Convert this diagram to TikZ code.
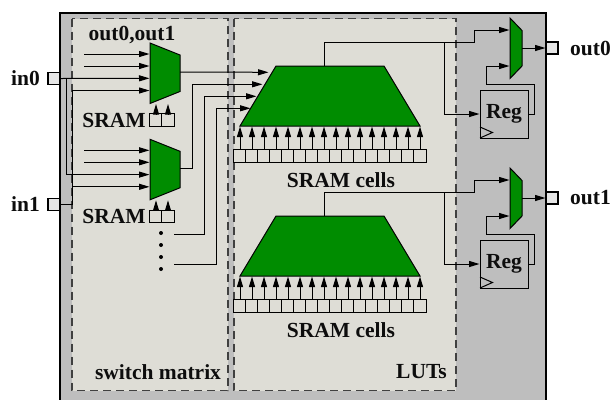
\documentclass[tikz,border=0pt]{standalone}
\usepackage{fontspec}
\setmainfont{Liberation Serif}
\usetikzlibrary{arrows.meta}
\definecolor{chipgray}{HTML}{BEBEBE}
\definecolor{panelgray}{HTML}{DEDDD6}
\definecolor{portgray}{HTML}{E6E6E6}
\definecolor{muxgreen}{HTML}{008C00}
\definecolor{dashgray}{HTML}{404040}
\tikzset{
  lbl/.style={font=\fontsize{21.5bp}{23bp}\selectfont\bfseries,inner sep=0pt,text=black!95},
  wire/.style={draw=black,line width=1bp},
  arr/.style={wire,-{Triangle[length=10.5bp,width=6bp]},shorten >=0.5bp},
  panel/.style={draw=dashgray,fill=panelgray,line width=1.1bp,dash pattern=on 8bp off 5bp},
  greenshape/.style={draw=black,fill=muxgreen,line width=1bp,line join=miter},
  port/.style={draw=black,fill=portgray,line width=1.8bp,minimum size=12bp,inner sep=0pt,outer sep=0pt},
  cell/.style={draw=black,fill=panelgray,line width=1bp,minimum size=12.4bp,inner sep=0pt,outer sep=0pt},
  regbox/.style={draw=black,fill=chipgray,line width=1bp,minimum width=48bp,minimum height=48bp,inner sep=0pt,outer sep=0pt},
  dotn/.style={circle,fill=black,minimum size=4bp,inner sep=0pt}
}
\newcommand{\lutblock}[2]{% name, y of top
  \coordinate (#1tl) at (276,#2);
  \coordinate (#1tr) at (384,#2);
  \coordinate (#1br) at (420,#2+60);
  \coordinate (#1bl) at (240,#2+60);
  \coordinate (#1out) at (324,#2);
  \path[greenshape] (#1tl) -- (#1tr) -- (#1br) -- (#1bl) -- cycle;
  \foreach \i in {0,...,15}{
    \node[cell] (#1c\i) at ({240+12*\i},#2+90) {};
    \coordinate (#1p\i) at ({240+12*\i},#2+60);
    \draw[arr] (#1c\i.north) -- (#1p\i);
  }
}
\newcommand{\smallmux}[2]{% name, y of top-left
  \coordinate (#1a) at (150,#2);
  \coordinate (#1b) at (180,#2+12);
  \coordinate (#1c) at (180,#2+48.5);
  \coordinate (#1d) at (150,#2+60.5);
  \coordinate (#1o) at (180,#2+29);
  \path[greenshape] (#1a) -- (#1b) -- (#1c) -- (#1d) -- cycle;
  \node[cell] (#1s0) at (156,#2+77) {};
  \node[cell] (#1s1) at (168,#2+77) {};
  \coordinate (#1t0) at (156,#2+60.5);
  \coordinate (#1t1) at (168,#2+60.5);
  \draw[arr] (#1s0.north) -- (#1t0);
  \draw[arr] (#1s1.north) -- (#1t1);
  \node[lbl,anchor=east] (#1lab) at (146,#2+77) {SRAM};
  \foreach \k/\yy in {1/11,2/23,3/35.3,4/47.5}{
    \coordinate (#1i\k) at (150,#2+\yy);
  }
}
\newcommand{\outblock}[3]{% name, y offset, label
  \coordinate (#1a) at (510,#2+18);
  \coordinate (#1b) at (522,#2+30.5);
  \coordinate (#1c) at (522,#2+66);
  \coordinate (#1d) at (510,#2+78.5);
  \coordinate (#1i0) at (510,#2+30);
  \coordinate (#1i1) at (510,#2+66);
  \coordinate (#1o) at (522,#2+48);
  \path[greenshape] (#1a) -- (#1b) -- (#1c) -- (#1d) -- cycle;
  \node[regbox] (#1r) at (504,#2+114) {};
  \node[lbl] (#1rl) at (504,#2+114) {Reg};
  \coordinate (#1ck0) at (480,#2+127);
  \coordinate (#1ck1) at (492.5,#2+132.5);
  \coordinate (#1ck2) at (480,#2+138);
  \draw[wire] (#1ck0) -- (#1ck1) -- (#1ck2);
  \node[port] (#1p) at (552,#2+48) {};
  \node[lbl,anchor=west] (#1l) at (570,#2+48) {#3};
  \draw[arr] (#1o) -- (#1p.west);
  \coordinate (#1w1) at (534.5,#2+114);
  \coordinate (#1w2) at (534.5,#2+84);
  \coordinate (#1w3) at (486,#2+84);
  \draw[arr] (#1r.east) -- (#1w1) -- (#1w2) -- (#1w3) -- (#1w3 |- #1i1) -- (#1i1);
}
\begin{document}
\begin{tikzpicture}[x=1bp,y=-1bp]
\useasboundingbox (0,0) rectangle (610,399);
\coordinate (chiptl) at (60,13);
\coordinate (chipbr) at (546,402);
\begin{scope}
\clip (0,0) rectangle (610,399);
\path[draw=black,fill=chipgray,line width=1.3bp] (chiptl) rectangle (chipbr);
\end{scope}
\coordinate (swtl) at (72,18.5);
\coordinate (swbr) at (228,390.5);
\coordinate (luttl) at (234,18.5);
\coordinate (lutbr) at (456,390.5);
\path[panel] (swtl) rectangle (swbr);
\path[panel] (luttl) rectangle (lutbr);

\node[lbl] (title) at (132,35) {out0,out1};
\node[lbl] (swlabel) at (158,372.5) {switch matrix};
\node[lbl,anchor=east] (lutlabel) at (447,372) {LUTs};
\node[lbl] (cells1) at (341,180) {SRAM cells};
\node[lbl] (cells2) at (341,330) {SRAM cells};

\smallmux{ma}{43}
\smallmux{mb}{139.3}
\lutblock{la}{66}
\lutblock{lb}{216}
\outblock{oa}{0}{out0}
\outblock{ob}{150}{out1}

\node[port] (in0) at (54,78.5) {};
\node[port] (in1) at (54,204.5) {};
\node[lbl,anchor=east] (in0l) at (40,78.5) {in0};
\node[lbl,anchor=east] (in1l) at (40,204.5) {in1};

% switch matrix inputs
\foreach \m in {ma,mb}{
  \foreach \k in {1,2}{
    \path (\m i\k) ++(-66,0) coordinate (\m s\k);
    \draw[arr] (\m s\k) -- (\m i\k);
  }
}
\coordinate (v0) at (66,78.5);
\coordinate (v1) at (72,204.5);
\draw[arr] (in0.east) -- (mai3);
\draw[arr] (v0) -- (v0 |- mbi3) -- (mbi3);
\draw[arr] (in1.east) -- (v1) -- (v1 |- mai4) -- (mai4);
\draw[arr] (v1 |- mbi4) -- (mbi4);

% LUT inputs
\coordinate (e1) at (269,72.3);
\coordinate (e2) at (263,84.3);
\coordinate (e3) at (257,96.3);
\coordinate (e4) at (251,108.3);
\coordinate (t1) at (192,168);
\coordinate (t2) at (204,234);
\coordinate (t3) at (216,264);
\coordinate (s2) at (174,234);
\coordinate (s3) at (174,264);
\draw[arr] (mao) -- (e1);
\draw[arr] (mbo) -- (mbo -| t1) -- (t1 |- e2) -- (e2);
\draw[arr] (s2) -- (t2) -- (t2 |- e3) -- (e3);
\draw[arr] (s3) -- (t3) -- (t3 |- e4) -- (e4);
\foreach \n/\y in {1/233,2/245,3/257,4/269}{
  \node[dotn] (dot\n) at (161,\y) {};
}

% LUT outputs
\foreach \l/\o/\wy in {la/oa/42,lb/ob/192}{
  \coordinate (\l w) at (324,\wy);
  \coordinate (\l u) at (474,\wy);
  \coordinate (\l b) at (444,\wy);
  \draw[arr] (\l out) -- (\l w) -- (\l u) -- (\l u |- \o i0) -- (\o i0);
  \draw[arr] (\l b) -- (\l b |- \o r.west) -- (\o r.west);
}
\end{tikzpicture}
\end{document}
